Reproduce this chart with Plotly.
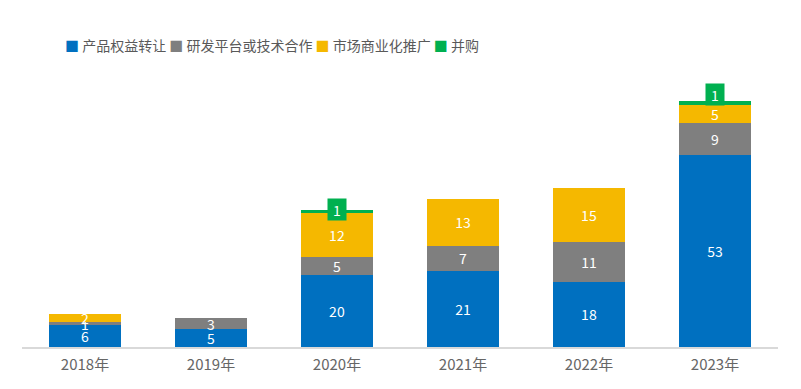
import plotly.graph_objects as go

categories = ["2018年", "2019年", "2020年", "2021年", "2022年", "2023年"]
series_names = ["产品权益转让", "研发平台或技术合作", "市场商业化推广", "并购"]
v_transfer = [6, 5, 20, 21, 18, 53]
v_platform = [1, 3, 5, 7, 11, 9]
v_market = [2, 0, 12, 13, 15, 5]
v_merge = [0, 0, 1, 0, 0, 1]

colors = ["#0070c0", "#7f7f7f", "#f5b800", "#00b050"]
FONT = "Microsoft YaHei, Noto Sans CJK SC, sans-serif"

fig = go.Figure()
for name, vals, col, show_text in zip(series_names,
                                      [v_transfer, v_platform, v_market, v_merge],
                                      colors, [True, True, True, False]):
    fig.add_trace(go.Bar(
        x=categories, y=vals, name=name, marker=dict(color=col, line=dict(width=0)),
        text=[str(v) if (v and show_text) else "" for v in vals],
        textposition="inside", insidetextanchor="middle", textangle=0,
        textfont=dict(color="white", size=14, family=FONT),
        hoverinfo="skip", showlegend=False,
    ))

totals = [a + b + c + d for a, b, c, d in zip(v_transfer, v_platform, v_market, v_merge)]
shifts = {"2020年": 2, "2023年": 9}
for cat, m, tot in zip(categories, v_merge, totals):
    if m:
        fig.add_annotation(x=cat, y=tot - m / 2, text=str(m), showarrow=False,
                           bgcolor="#00b050", font=dict(color="white", size=14, family=FONT),
                           width=14, height=17, borderpad=2, yshift=shifts.get(cat, 4))

# legend as one line of text with coloured squares
legend_text = " ".join(
    f"<span style='color:{c}'>■</span> {n}" for n, c in zip(series_names, colors)
)
fig.add_annotation(xref="paper", yref="paper", x=0.054, y=1.114, xanchor="left",
                   yanchor="middle", text=legend_text, showarrow=False,
                   font=dict(size=14, color="#595959", family=FONT))

fig.update_layout(
    barmode="stack", bargap=0.43,
    width=793, height=381,
    margin=dict(l=14, r=23, t=68, b=42, autoexpand=False),
    paper_bgcolor="white", plot_bgcolor="white",
    font=dict(family=FONT, color="#595959", size=13),
    uniformtext=dict(minsize=14, mode="show"),
    showlegend=False,
    xaxis=dict(showline=True, linecolor="#d9d9d9", linewidth=2, ticks="",
               tickfont=dict(size=15, color="#666666"), showgrid=False, automargin=False,
               ticklabelstandoff=3),
    yaxis=dict(range=[0, 75], visible=False, showgrid=False, automargin=False),
)

fig.write_html("out.html")
